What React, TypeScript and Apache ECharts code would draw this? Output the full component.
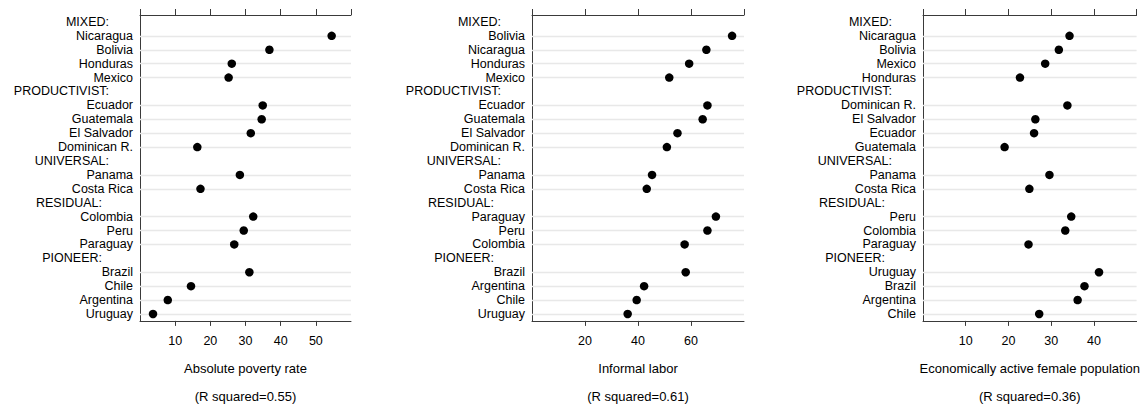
import React, { useEffect, useRef } from "react";
import * as echarts from "echarts";

const povertyCategories = ["MIXED:", "Nicaragua", "Bolivia", "Honduras", "Mexico", "PRODUCTIVIST:", "Ecuador", "Guatemala", "El Salvador", "Dominican R.", "UNIVERSAL:", "Panama", "Costa Rica", "RESIDUAL:", "Colombia", "Peru", "Paraguay", "PIONEER:", "Brazil", "Chile", "Argentina", "Uruguay"];
const povertyValues = [null, 54.5, 36.8, 26.1, 25.2, null, 34.9, 34.6, 31.5, 16.3, null, 28.4, 17.2, null, 32.2, 29.5, 26.8, null, 31.1, 14.5, 7.9, 3.7];

const informalCategories = ["MIXED:", "Bolivia", "Nicaragua", "Honduras", "Mexico", "PRODUCTIVIST:", "Ecuador", "Guatemala", "El Salvador", "Dominican R.", "UNIVERSAL:", "Panama", "Costa Rica", "RESIDUAL:", "Paraguay", "Peru", "Colombia", "PIONEER:", "Brazil", "Argentina", "Chile", "Uruguay"];
const informalValues = [null, 75.5, 65.8, 59.3, 51.8, null, 66.2, 64.4, 54.9, 50.9, null, 45.3, 43.3, null, 69.4, 66.2, 57.6, null, 58.0, 42.3, 39.5, 36.1];

const femaleCategories = ["MIXED:", "Nicaragua", "Bolivia", "Mexico", "Honduras", "PRODUCTIVIST:", "Dominican R.", "El Salvador", "Ecuador", "Guatemala", "UNIVERSAL:", "Panama", "Costa Rica", "RESIDUAL:", "Peru", "Colombia", "Paraguay", "PIONEER:", "Uruguay", "Brazil", "Argentina", "Chile"];
const femaleValues = [null, 34.3, 31.8, 28.6, 22.7, null, 33.8, 26.3, 26.0, 19.1, null, 29.6, 24.9, null, 34.7, 33.3, 24.7, null, 41.2, 37.8, 36.2, 27.2];

const axisTitles = ["Absolute poverty rate", "Informal labor", "Economically active female population"];
const rSquared = ["(R squared=0.55)", "(R squared=0.61)", "(R squared=0.36)"];
const axisMax = [60, 80, 50];
const axisInterval = [10, 20, 10];

const panelCategories = [povertyCategories, informalCategories, femaleCategories];
const panelValues = [povertyValues, informalValues, femaleValues];

const FONT = "Liberation Sans, Arial, sans-serif";
const LINE = "#3a3a3a";
const TEXT = "#000000";
const GRIDLINE = "#e8e8e8";

const layout = [
  { left: 140, width: 211 },
  { left: 532, width: 212 },
  { left: 923, width: 214 },
];

const isHeader = (s: string) => s.endsWith(":");
const wideHeaders = ["RESIDUAL:", "PIONEER:"];

export default function App() {
  const ref = useRef<HTMLDivElement>(null);

  useEffect(() => {
    if (!ref.current) return;
    const chart = echarts.init(ref.current, undefined, { renderer: "svg" });

    const grid: any[] = [];
    const xAxis: any[] = [];
    const yAxis: any[] = [];
    const series: any[] = [];

    panelCategories.forEach((cats, p) => {
      grid.push({ left: layout[p].left, width: layout[p].width, top: 15, height: 316, containLabel: false });
      xAxis.push({
        type: "value",
        gridIndex: p,
        position: "bottom",
        min: 0,
        max: axisMax[p],
        interval: axisInterval[p],
        axisLine: { show: true, lineStyle: { color: LINE, width: 1 } },
        axisTick: { show: true, length: 5, lineStyle: { color: LINE } },
        axisLabel: { show: true, showMinLabel: false, showMaxLabel: false, color: TEXT, fontFamily: FONT, fontSize: 12.5, margin: 14 },
        splitLine: { show: false },
        name: axisTitles[p] + "\n\n" + rSquared[p],
        nameLocation: "middle",
        nameGap: 41,
        nameTextStyle: { color: TEXT, fontFamily: FONT, fontSize: 13, lineHeight: 13.7 },
      });
      xAxis.push({
        type: "value",
        gridIndex: p,
        position: "top",
        min: 0,
        max: axisMax[p],
        interval: axisInterval[p],
        axisLine: { show: true, lineStyle: { color: LINE, width: 1 } },
        axisTick: { show: true, length: 6, lineStyle: { color: LINE } },
        axisLabel: { show: false },
        splitLine: { show: false },
      });
      yAxis.push({
        type: "category",
        gridIndex: p,
        position: "left",
        inverse: true,
        data: cats,
        axisLine: { show: true, lineStyle: { color: LINE, width: 1 } },
        axisTick: { show: false },
        splitLine: { show: false },
        axisLabel: {
          interval: 0,
          margin: 7,
          color: TEXT,
          fontFamily: FONT,
          fontSize: 12.5,
          formatter: (v: string) => (isHeader(v) ? (wideHeaders.includes(v) ? `{hb|${v}}` : `{ha|${v}}`) : v),
          rich: {
            ha: { padding: [0, 24, 0, 0], color: TEXT, fontFamily: FONT, fontSize: 12.5 },
            hb: { padding: [0, 31, 0, 0], color: TEXT, fontFamily: FONT, fontSize: 12.5 },
          },
        },
      });
      yAxis.push({
        type: "category",
        gridIndex: p,
        position: "right",
        inverse: true,
        data: cats,
        axisLine: { show: true, lineStyle: { color: LINE, width: 1 } },
        axisTick: { show: false },
        axisLabel: { show: false },
        splitLine: { show: false },
      });

      const data = cats
        .map((c, i) => [panelValues[p][i], c])
        .filter((d) => d[0] !== null);

      series.push({
        type: "scatter",
        xAxisIndex: p * 2,
        yAxisIndex: p * 2,
        data,
        symbolSize: 0,
        silent: true,
        z: 1,
        markLine: {
          silent: true,
          symbol: ["none", "none"],
          label: { show: false },
          lineStyle: { color: GRIDLINE, width: 1.4, type: "solid" },
          data: cats.filter((c) => !isHeader(c)).map((c) => ({ yAxis: c })),
        },
      });
      series.push({
        type: "scatter",
        xAxisIndex: p * 2,
        yAxisIndex: p * 2,
        data,
        symbol: "circle",
        symbolSize: 8.5,
        itemStyle: { color: "#000000", opacity: 1 },
        z: 5,
      });
    });

    chart.setOption({
      animation: false,
      backgroundColor: "#ffffff",
      textStyle: { fontFamily: FONT },
      grid,
      xAxis,
      yAxis,
      series,
    });

    return () => chart.dispose();
  }, []);

  return <div ref={ref} style={{ position: "absolute", left: 0, top: 0, width: 1143, height: 408 }} />;
}
